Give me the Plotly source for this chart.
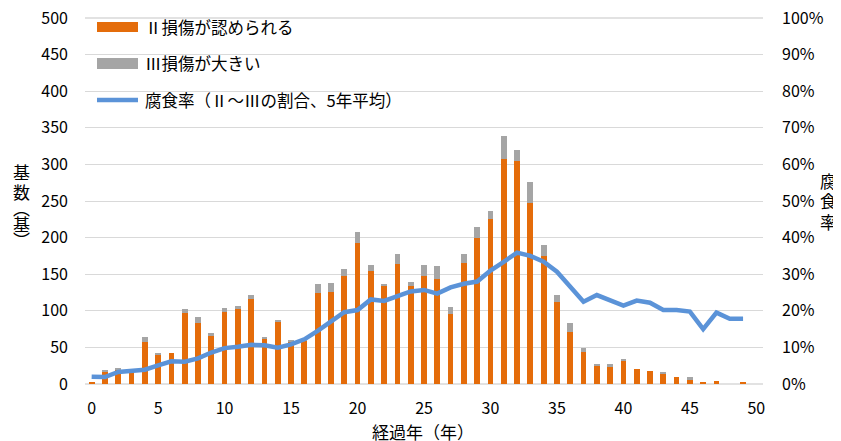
import plotly.graph_objects as go

years = list(range(0, 51))
damage_II = [3, 17, 20, 16, 58, 40, 43, 97, 84, 65, 99, 103, 116, 61, 85, 58, 59, 124, 126, 148,
             193, 154, 134, 164, 134, 148, 144, 96, 165, 200, 225, 308, 304, 247, 175, 112, 71, 44, 25, 23,
             31, 21, 18, 15, 9, 5, 3, 4, 0, 3, 0]
damage_III = [0, 1, 2, 0, 6, 1, 0, 5, 7, 5, 5, 3, 6, 3, 2, 2, 2, 12, 12, 9,
              15, 9, 3, 13, 6, 14, 17, 9, 13, 14, 11, 31, 15, 29, 15, 10, 12, 5, 3, 5,
              3, 0, 0, 1, 0, 4, 0, 0, 0, 0, 0]
rate_years = list(range(0, 50))
corrosion_rate = [0.020, 0.019, 0.033, 0.037, 0.039, 0.051, 0.062, 0.061, 0.070, 0.086,
                  0.098, 0.102, 0.107, 0.106, 0.099, 0.108, 0.122, 0.145, 0.170, 0.196,
                  0.202, 0.231, 0.227, 0.240, 0.253, 0.257, 0.247, 0.264, 0.274, 0.280,
                  0.310, 0.334, 0.359, 0.350, 0.334, 0.307, 0.266, 0.225, 0.243, 0.228,
                  0.214, 0.228, 0.222, 0.202, 0.202, 0.198, 0.150, 0.195, 0.178, 0.178]

left_ticks = list(range(0, 501, 50))
x_ticks = list(range(0, 51, 5))
legend_labels = ["Ⅱ損傷が認められる", "Ⅲ損傷が大きい", "腐食率（Ⅱ～Ⅲの割合、5年平均）"]
y_title_chars = ["基", "数", "︵", "基", "︶"]
y2_title_chars = ["腐", "食", "率"]
x_title = "経過年（年）"

ORANGE = "#E46C0A"
GRAY = "#A5A5A5"
BLUE = "#5B93D8"
GRID = "#D9D9D9"
FONT = "Noto Sans CJK JP"

# page body has an 8px margin, so the figure is drawn offset by (8, 8)
OFF = 8
WIN_W, WIN_H = 841, 441
W, H = WIN_W - OFF, WIN_H - OFF
# plot-area edges in window pixels
L, R, T, B = 85, 763, 18, 384


def px(x):
    return (x - L) / (R - L)


def py(y):
    return (B - y) / (B - T)


fig = go.Figure()
fig.add_trace(go.Bar(x=years, y=damage_II, name=legend_labels[0], marker_color=ORANGE,
                     marker_line_width=0, showlegend=False))
fig.add_trace(go.Bar(x=years, y=damage_III, name=legend_labels[1], marker_color=GRAY,
                     marker_line_width=0, showlegend=False))
fig.add_trace(go.Scatter(x=rate_years, y=corrosion_rate, name=legend_labels[2], mode="lines",
                         line=dict(color=BLUE, width=4.5), yaxis="y2", showlegend=False))

fig.update_layout(
    width=W, height=H,
    margin=dict(l=L - OFF, r=WIN_W - R, t=T - OFF, b=WIN_H - B, autoexpand=False),
    paper_bgcolor="white", plot_bgcolor="rgba(0,0,0,0)",
    barmode="stack", bargap=0.57,
    font=dict(family=FONT, size=16, color="#000000"),
    xaxis=dict(range=[-0.5, 50.5], tickmode="array", tickvals=x_ticks, showgrid=False,
               zeroline=False, showline=False, ticks="", ticklabelstandoff=13,
               tickfont=dict(size=16), automargin=False, ticklabeloverflow="allow"),
    yaxis=dict(range=[0, 500], tickmode="array", tickvals=left_ticks, showgrid=True,
               gridcolor=GRID, gridwidth=1, zeroline=False, showline=False, ticks="",
               ticklabelstandoff=16, tickfont=dict(size=16), automargin=False,
               ticklabeloverflow="allow"),
    yaxis2=dict(range=[0, 1], overlaying="y", side="right", tickformat=".0%", dtick=0.1,
                tick0=0, showgrid=False, zeroline=False, showline=False, ticks="",
                ticklabelstandoff=18, tickfont=dict(size=16), automargin=False,
                ticklabeloverflow="allow"),
)

shapes = [
    # edge gridlines (plotly drops grid lines lying exactly on the range ends)
    dict(type="line", xref="paper", yref="paper", x0=0, x1=1, y0=0, y1=0,
         line=dict(color=GRID, width=1.5), layer="below"),
    dict(type="line", xref="paper", yref="paper", x0=0, x1=1, y0=1, y1=1,
         line=dict(color=GRID, width=1.5), layer="below"),
    dict(type="rect", xref="paper", yref="paper", x0=px(97), x1=px(138), y0=py(32), y1=py(22),
         fillcolor=ORANGE, line=dict(width=0)),
    dict(type="rect", xref="paper", yref="paper", x0=px(97), x1=px(138), y0=py(69), y1=py(58),
         fillcolor=GRAY, line=dict(width=0)),
    dict(type="line", xref="paper", yref="paper", x0=px(97), x1=px(138), y0=py(100), y1=py(100),
         line=dict(color=BLUE, width=4.5)),
]
fig.update_layout(shapes=shapes)

annotations = []
for lbl, yc in zip(legend_labels, [27, 63, 100]):
    annotations.append(dict(text=lbl, xref="paper", yref="paper", x=px(143), y=py(yc),
                            xanchor="left", yanchor="middle", showarrow=False,
                            font=dict(size=16.5, family=FONT)))
for ch, yc in zip(y_title_chars, [171, 191, 207, 223, 239]):
    annotations.append(dict(text=ch, xref="paper", yref="paper", x=px(21), y=py(yc),
                            xanchor="center", yanchor="middle", showarrow=False,
                            font=dict(size=17, family=FONT)))
for ch, yc in zip(y2_title_chars, [180, 200, 221]):
    annotations.append(dict(text=ch, xref="paper", yref="paper", x=px(828), y=py(yc),
                            xanchor="center", yanchor="middle", showarrow=False,
                            font=dict(size=17, family=FONT)))
annotations.append(dict(text=x_title, xref="paper", yref="paper", x=px(423), y=py(431),
                        xanchor="center", yanchor="middle", showarrow=False,
                        font=dict(size=17, family=FONT)))
fig.update_layout(annotations=annotations)

fig.write_html("out.html")
